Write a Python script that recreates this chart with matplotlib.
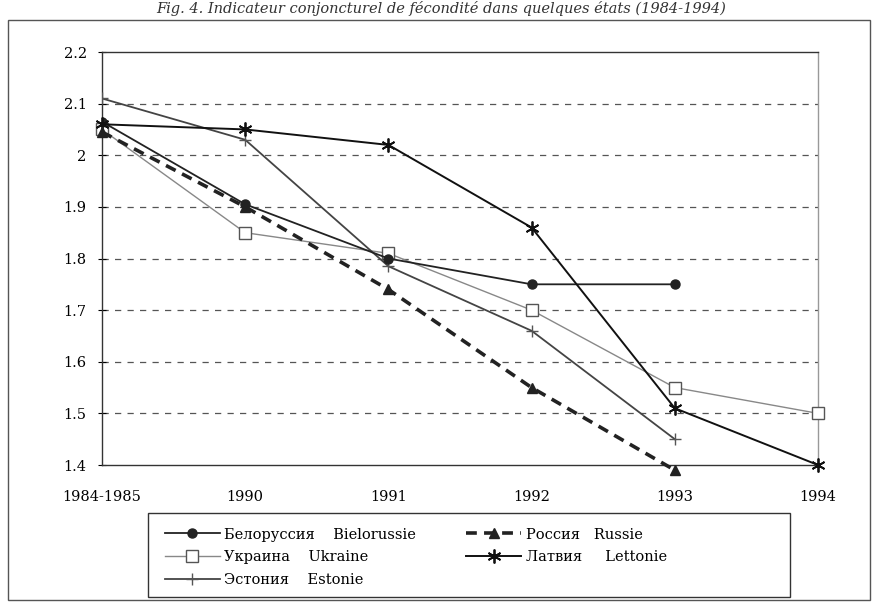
import matplotlib
matplotlib.use("Agg")
import matplotlib.pyplot as plt
from matplotlib.patches import Rectangle

categories = ["1984-1985", "1990", "1991", "1992", "1993", "1994"]
belarus = [2.065, 1.905, 1.80, 1.75, 1.75, None]
russia = [2.045, 1.90, 1.74, 1.55, 1.39, None]
ukraine = [2.05, 1.85, 1.81, 1.70, 1.55, 1.50]
latvia = [2.06, 2.05, 2.02, 1.86, 1.51, 1.40]
estonia = [2.11, 2.03, 1.785, 1.66, 1.45, None]
yticks = [1.4, 1.5, 1.6, 1.7, 1.8, 1.9, 2.0, 2.1, 2.2]
ylabels = ["1.4", "1.5", "1.6", "1.7", "1.8", "1.9", "2", "2.1", "2.2"]

plt.rcParams['font.family'] = ['DejaVu Serif']

fig = plt.figure(figsize=(8.82, 6.08), dpi=100)
ax = fig.add_axes([102/882, 1-465/608, (818-102)/882, (465-52)/608])

def xy(vals):
    xs = [i for i, v in enumerate(vals) if v is not None]
    ys = [v for v in vals if v is not None]
    return xs, ys

hb, = ax.plot(*xy(belarus), color='#222222', lw=1.3, marker='o', ms=6.5,
              mfc='#222222', mec='#222222', label='Белоруссия    Bielorussie', zorder=5)
hr, = ax.plot(*xy(russia), color='#222222', lw=2.6, ls=(0, (3, 2)), marker='^', ms=7,
              mfc='#222222', mec='#222222', label='Россия   Russie', zorder=6, clip_on=False)
hu, = ax.plot(*xy(ukraine), color='#888888', lw=1.0, marker='s', ms=8,
              mfc='white', mec='#555555', mew=1.0, label='Украина    Ukraine', zorder=4, clip_on=False)
hl, = ax.plot(*xy(latvia), color='#111111', lw=1.4, marker=(6, 2, 0), ms=10,
              mec='#111111', mew=1.3, label='Латвия     Lettonie', zorder=5, clip_on=False)
he, = ax.plot(*xy(estonia), color='#444444', lw=1.3, marker='+', ms=9,
              mec='#555555', mew=1.0, label='Эстония    Estonie', zorder=4)

ax.set_xlim(0, 5)
ax.set_ylim(1.4, 2.2)
ax.set_xticks(range(len(categories)))
ax.set_xticklabels(categories, fontsize=10.5)
ax.set_yticks(yticks)
ax.set_yticklabels(ylabels, fontsize=10.5)
ax.tick_params(axis='x', length=0, pad=18)
ax.tick_params(axis='y', direction='inout', length=6, pad=8)
for g in yticks[1:-1]:
    ax.axhline(g, color='#555555', lw=0.9, ls=(0, (5, 5)), zorder=1)
for s in ax.spines.values():
    s.set_color('#333333')
    s.set_linewidth(1.0)
ax.spines['right'].set_color('#999999')

leg = fig.legend(handles=[hb, hu, he, hr, hl], ncol=2,
                 loc='upper left', bbox_to_anchor=(150/882, 1-513/608),
                 frameon=False, fontsize=10.5, handlelength=3.8, borderpad=0.5,
                 labelspacing=0.6, columnspacing=3.4, handletextpad=0.3)

fig.patches.append(Rectangle((148/882, 1-597/608), (790-148)/882, (597-513)/608,
                             transform=fig.transFigure, fill=False,
                             edgecolor='#333333', lw=1.0))
fig.patches.append(Rectangle((8/882, 1-600/608), (870-8)/882, (600-20)/608,
                             transform=fig.transFigure, fill=False,
                             edgecolor='#555555', lw=1.0))
fig.text(0.5, 0.999, "Fig. 4. Indicateur conjoncturel de fécondité dans quelques états (1984-1994)",
         ha='center', va='top', fontsize=10.5, style='italic', color='#333333')

fig.savefig("out.png", dpi=100)
